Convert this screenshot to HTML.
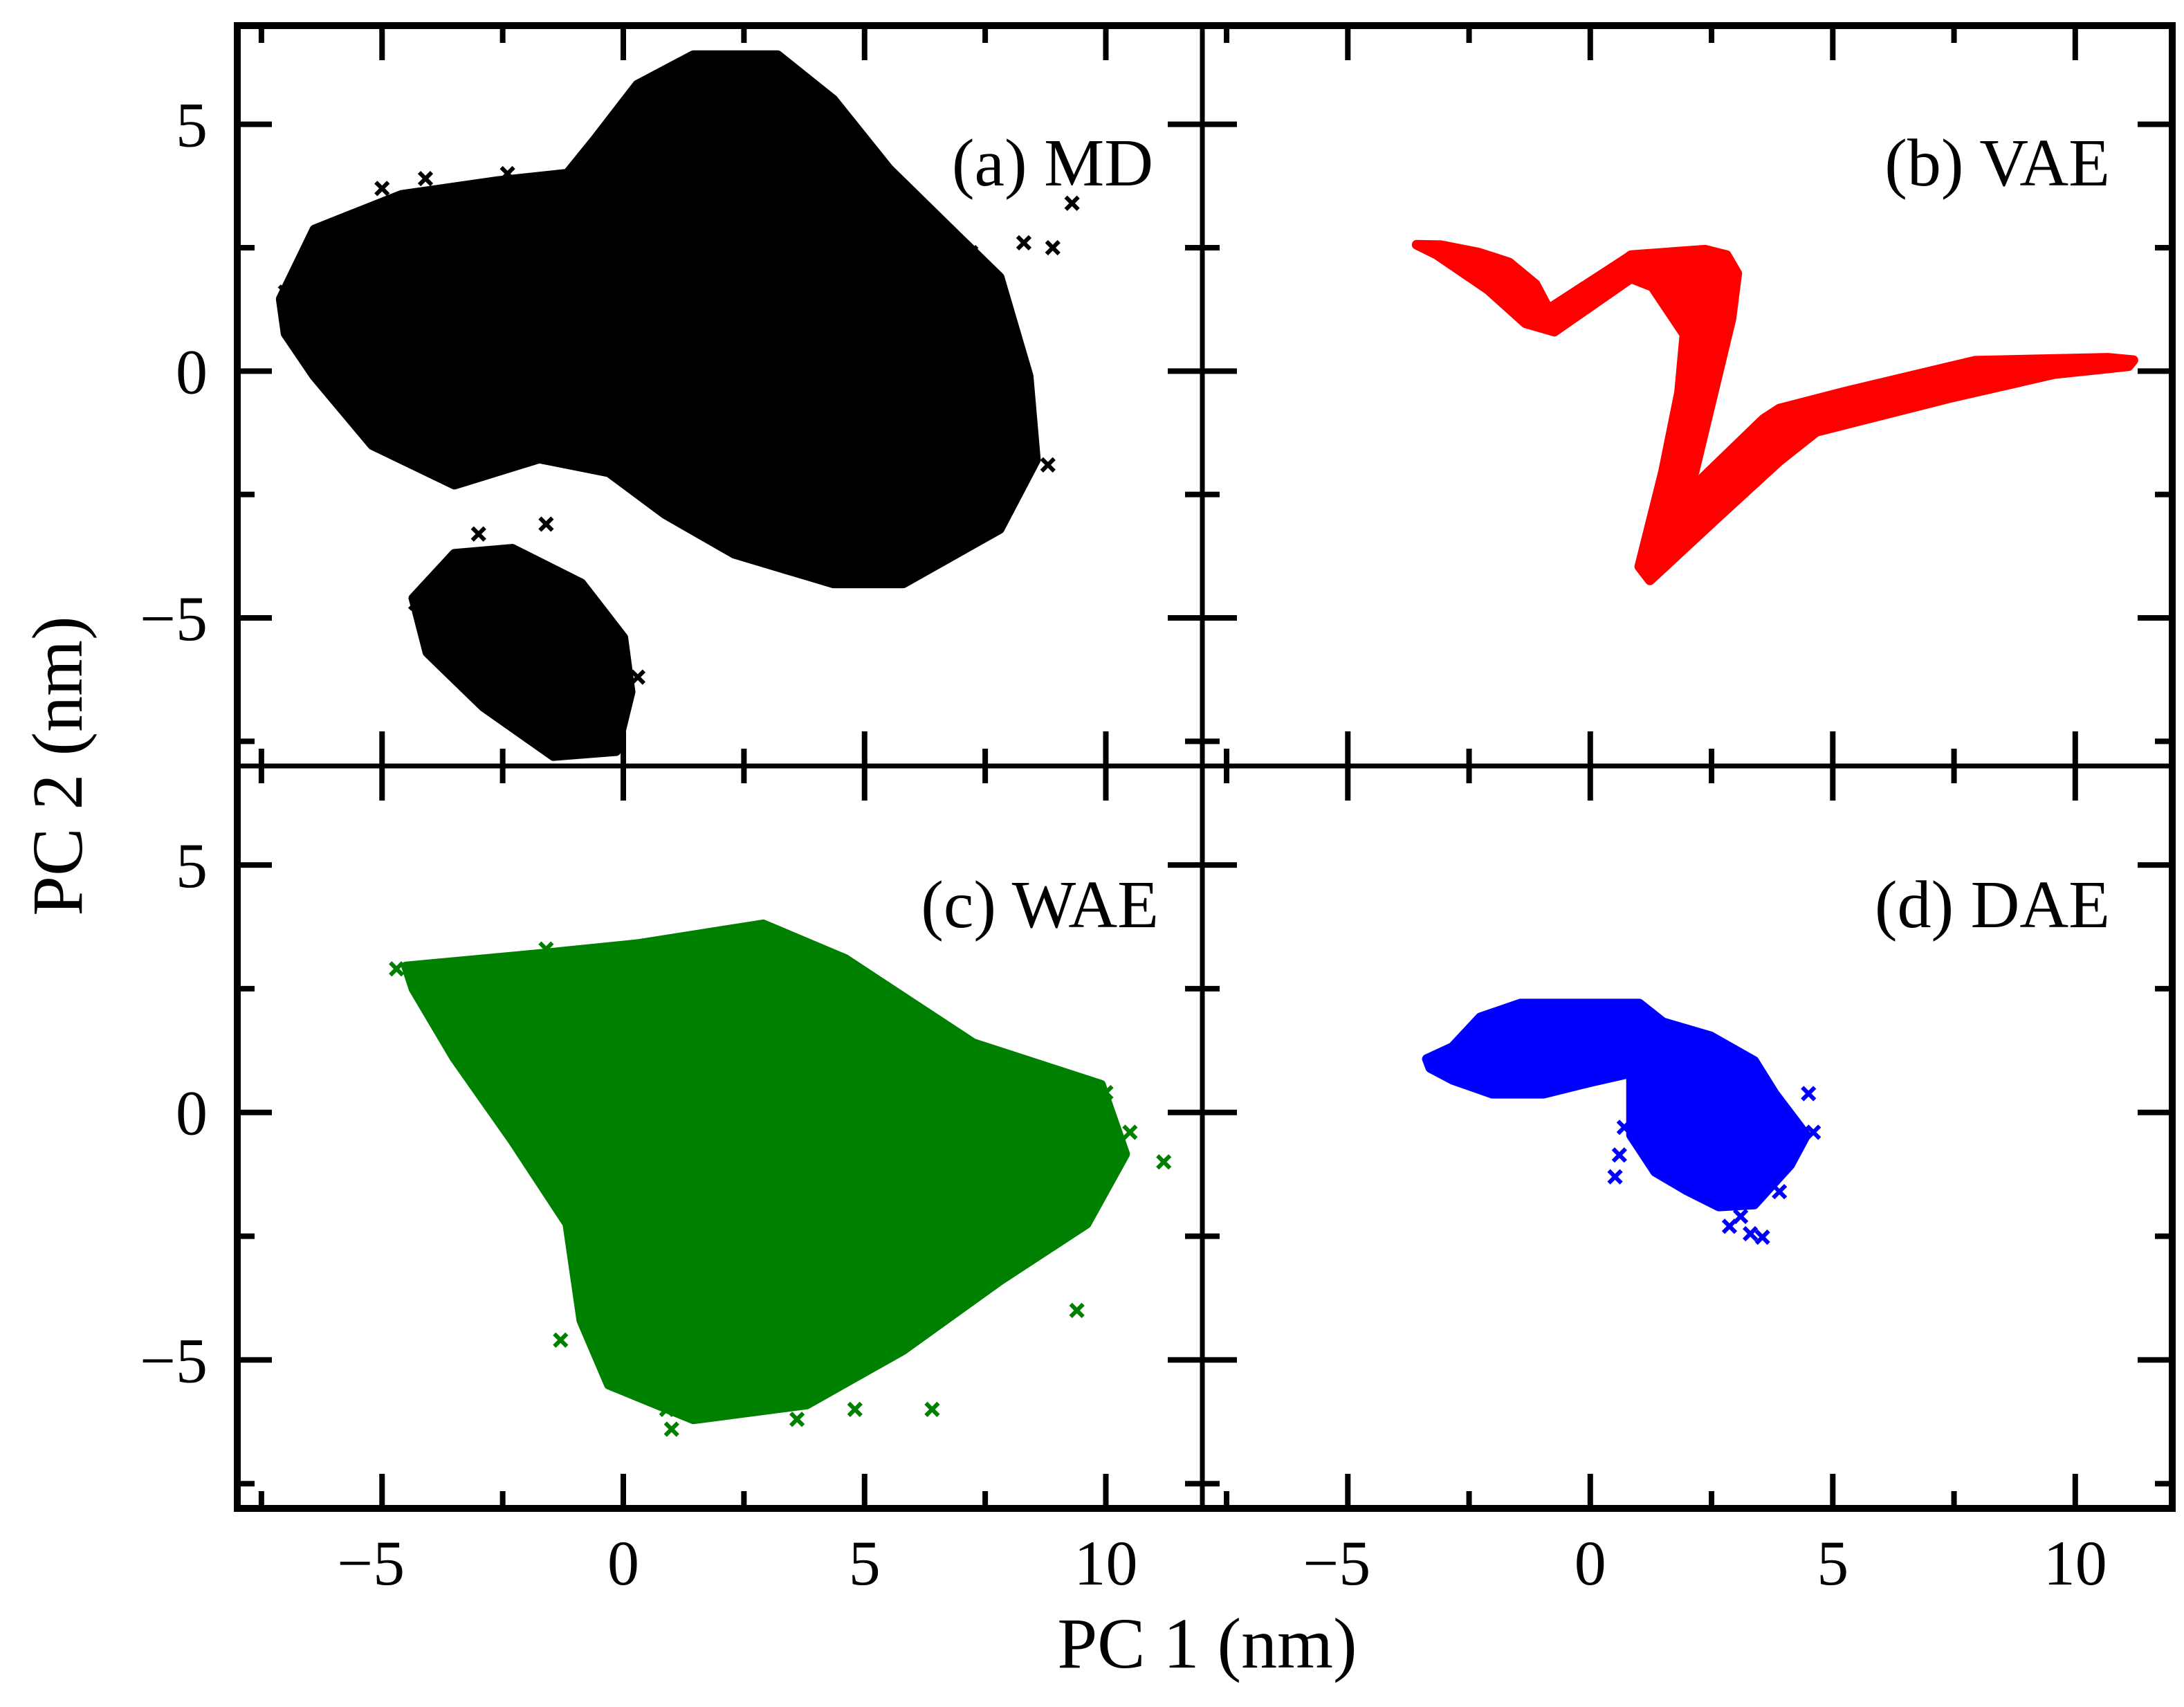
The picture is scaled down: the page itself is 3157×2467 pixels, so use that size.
<!DOCTYPE html>
<html><head><meta charset="utf-8"><style>
html,body{margin:0;padding:0;background:#fff;}
svg text{font-family:"Liberation Serif",serif;}
</style></head><body>
<svg id="chart" width="3157" height="2462" viewBox="0 0 3157 2462" xmlns="http://www.w3.org/2000/svg">
<rect width="3157" height="2462" fill="#fff"/>
<g id="layer"></g>
</svg>
<script>
// ---- data (PC1, PC2 in nm) ----
const xTicks=[-5,0,5,10];
const yTicks=[-5,0,5];
const xTickLabels=["\u22125","0","5","10"];
const yTickLabels=["\u22125","0","5"];
const panelLabels=["(a) MD","(b) VAE","(c) WAE","(d) DAE"];
const panelColors=["#000000","#ff0000","#008000","#0000ff"];
const mdMainX=[-7.1,-6.4,-4.6,-2.6,-1.16,-0.58,0.29,1.45,3.2,4.35,5.5,6.96,7.8,8.4,8.55,7.8,5.8,4.35,2.3,0.87,-0.3,-1.74,-3.5,-5.2,-6.4,-7.0];
const mdMainY=[1.46,2.87,3.57,3.85,4.0,4.7,5.8,6.4,6.4,5.5,4.1,2.7,1.9,-0.1,-1.8,-3.2,-4.3,-4.3,-3.7,-2.9,-2.05,-1.77,-2.3,-1.5,-0.1,0.76];
const mdSmallX=[-4.35,-3.5,-2.3,-0.87,0.0,0.15,-0.15,-1.45,-2.9,-4.06];
const mdSmallY=[-4.6,-3.7,-3.6,-4.3,-5.4,-6.5,-7.7,-7.8,-6.8,-5.7];
const mdOutX=[9.3,8.9,8.3,7.2,-7.0,-6.6,0.9,1.3,-4.3,-3.0,-1.6,0.3,-5.0,-4.1,-2.4,8.8];
const mdOutY=[3.4,2.5,2.6,2.4,1.6,2.1,4.2,4.4,-4.7,-3.3,-3.1,-6.2,3.7,3.9,4.0,-1.9];
const vaeX=[-3.58,-3.08,-2.3,-1.67,-1.13,-0.86,0.77,0.84,2.37,2.81,3.03,2.91,2.15,1.94,3.57,3.9,5.2,7.93,10.67,11.2,11.1,9.57,7.39,4.66,3.9,2.58,1.23,1.01,1.5,1.83,1.94,1.28,0.84,-0.74,-1.34,-2.11,-3.17];
const vaeY=[2.56,2.55,2.4,2.2,1.76,1.26,2.3,2.35,2.46,2.35,1.98,1.06,-2.04,-2.52,-0.97,-0.76,-0.43,0.21,0.27,0.22,0.1,-0.06,-0.55,-1.23,-1.82,-3.01,-4.24,-3.96,-2.04,-0.43,0.74,1.71,1.88,0.8,0.97,1.65,2.36];
const waeX=[-4.5,-1.74,0.29,2.9,4.6,7.25,9.9,10.4,9.6,7.8,5.8,3.8,1.45,-0.3,-0.87,-1.16,-2.3,-3.5,-4.35];
const waeY=[2.95,3.2,3.4,3.8,3.1,1.4,0.56,-0.84,-2.25,-3.4,-4.8,-5.9,-6.2,-5.5,-4.2,-2.25,-0.56,1.1,2.5];
const waeOutX=[-4.7,-1.6,10.5,11.2,10.0,9.4,6.4,4.8,3.6,1.0,-1.3,0.9];
const waeOutY=[2.9,3.3,-0.4,-1.0,0.4,-4.0,-6.0,-6.0,-6.2,-6.4,-4.6,-6.0];
const daeX=[-3.37,-2.84,-2.27,-1.44,1.01,1.5,2.48,3.38,3.8,4.45,4.12,3.38,2.65,2.0,1.34,0.84,0.84,0.03,-0.96,-2.02,-2.84,-3.3];
const daeY=[1.08,1.32,1.92,2.2,2.2,1.82,1.54,1.04,0.38,-0.46,-1.06,-1.86,-1.9,-1.58,-1.2,-0.46,0.8,0.62,0.38,0.38,0.66,0.9];
const daeOutX=[3.55,3.3,2.87,0.51,0.6,4.5,4.6,3.9,0.7,3.1];
const daeOutY=[-2.52,-2.45,-2.3,-1.3,-0.86,0.38,-0.4,-1.6,-0.3,-2.1];

// ---- layout ----
const NS="http://www.w3.org/2000/svg";
const layer=document.getElementById('layer');
const X0=343, XM=1738, X1=3140, Y0=37, YM=1107, Y1=2180;
const xMin=-8, xMax=12, yMin=-8, yMax=7;
const panels=[[X0,XM,Y0,YM],[XM,X1,Y0,YM],[X0,XM,YM,Y1],[XM,X1,YM,Y1]];
function mk(tag,attrs,parent){const e=document.createElementNS(NS,tag);for(const k in attrs)e.setAttribute(k,attrs[k]);(parent||layer).appendChild(e);return e;}
function sx(p,v){const b=panels[p];return b[0]+(v-xMin)/(xMax-xMin)*(b[1]-b[0]);}
function sy(p,v){const b=panels[p];return b[3]-(v-yMin)/(yMax-yMin)*(b[3]-b[2]);}

const defs=mk('defs',{});
panels.forEach((b,i)=>{const c=mk('clipPath',{id:'clip'+i},defs);mk('rect',{x:b[0],y:b[2],width:b[1]-b[0],height:b[3]-b[2]},c);});

function blob(p,xs,ys,name){
  const pts=xs.map((x,i)=>sx(p,x).toFixed(1)+','+sy(p,ys[i]).toFixed(1)).join(' ');
  const e=mk('polygon',{points:pts,fill:panelColors[p],stroke:panelColors[p],'stroke-width':14,'stroke-linejoin':'round','clip-path':'url(#clip'+p+')'});
  
  
}
function marks(p,xs,ys,name,plus){
  const g=mk('g',{stroke:panelColors[p],'stroke-width':6,'clip-path':'url(#clip'+p+')'});
  
  
  xs.forEach((x,i)=>{const cx=sx(p,x),cy=sy(p,ys[i]),r=9;
    const d=plus?`M${cx-r},${cy}H${cx+r}M${cx},${cy-r}V${cy+r}`:`M${cx-r},${cy-r}L${cx+r},${cy+r}M${cx-r},${cy+r}L${cx+r},${cy-r}`;
    const m=mk('path',{d:d},g);
    
    
  });
}
blob(0,mdMainX,mdMainY,'md-main-cluster');
blob(0,mdSmallX,mdSmallY,'md-small-cluster');
marks(0,mdOutX,mdOutY,'md-outlier-points',false);
blob(1,vaeX,vaeY,'vae-cluster');
blob(2,waeX,waeY,'wae-cluster');
marks(2,waeOutX,waeOutY,'wae-outlier-points',false);
blob(3,daeX,daeY,'dae-cluster');
marks(3,daeOutX,daeOutY,'dae-outlier-points',false);

// ---- ticks ----
const tg=mk('g',{stroke:'#000','stroke-width':8});


panels.forEach((b,p)=>{
  for(let v=-7.5;v<=12;v+=2.5){const L=(v%5===0)?50:25;const x=sx(p,v);if(x<=b[0]+2||x>=b[1]-2)continue;
    mk('line',{x1:x,y1:b[3],x2:x,y2:b[3]-L},tg);mk('line',{x1:x,y1:b[2],x2:x,y2:b[2]+L},tg);}
  for(let v=-7.5;v<=7;v+=2.5){const L=(v%5===0)?50:25;const y=sy(p,v);if(y<=b[2]+2||y>=b[3]-2)continue;
    mk('line',{x1:b[0],y1:y,x2:b[0]+L,y2:y},tg);mk('line',{x1:b[1],y1:y,x2:b[1]-L,y2:y},tg);}
});
// frame
const fr=mk('g',{stroke:'#000',fill:'none'});


mk('rect',{x:X0,y:Y0,width:X1-X0,height:Y1-Y0,'stroke-width':10},fr);
mk('line',{x1:XM,y1:Y0,x2:XM,y2:Y1,'stroke-width':7},fr);
mk('line',{x1:X0,y1:YM,x2:X1,y2:YM,'stroke-width':7},fr);

// tick labels
function txt(s,x,y,size,anchor,name,extra){const t=mk('text',Object.assign({x:x,y:y,'font-size':size,'text-anchor':anchor,fill:'#000'},extra||{}));t.textContent=s;
  
  return t;}
[2,3].forEach(p=>xTicks.forEach((v,i)=>txt(xTickLabels[i],sx(p,v)+(v<0?-16:0),2290,92,'middle','x-tick-label')));
[0,2].forEach(p=>yTicks.forEach((v,i)=>txt(yTickLabels[i],300,sy(p,v)+32,92,'end','y-tick-label')));
txt('PC 1 (nm)',1745,2410,104,'middle','x-axis-title');
txt('PC 2 (nm)',0,0,104,'middle','y-axis-title',{transform:'translate(118,1107) rotate(-90)'});
const lp=[[1667,268],[3050,268],[1675,1340],[3050,1340]];
panelLabels.forEach((s,i)=>txt(s,lp[i][0],lp[i][1],98,'end','panel-label'));
</script>
</body></html>
